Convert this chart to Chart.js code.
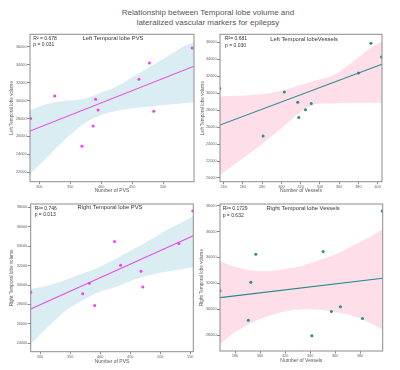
<!DOCTYPE html>
<html><head><meta charset="utf-8">
<script src="https://cdn.jsdelivr.net/npm/chart.js@4"></script>
<style>
html,body{margin:0;padding:0;background:#fff;}
#wrap{position:relative;width:400px;height:370px;overflow:hidden;font-family:"Liberation Sans",Arial,sans-serif;}
canvas{position:absolute;left:0;top:0;}
#title{position:absolute;left:0;width:416px;top:8px;text-align:center;font-size:8px;line-height:9.7px;color:#555;}
</style></head><body>
<div id="wrap">
<div id="title">Relationship between Temporal lobe volume and<br>lateralized vascular markers for epilepsy</div>
<canvas id="c1" width="400" height="370"></canvas>
<canvas id="c2" width="400" height="370"></canvas>
<canvas id="c3" width="400" height="370"></canvas>
<canvas id="c4" width="400" height="370"></canvas>
</div>
<script>
// ---------- Panel 1: Left temporal lobe vs PVS ----------
const leftPvsX = [286, 325, 369, 387, 391, 395, 461, 478, 485, 547];
const leftPvsVol = [28000, 30500, 24900, 27150, 30150, 28950, 32400, 34200, 28800, 35900];
const leftPvsFitX = [285, 550];
const leftPvsFitY = [26590, 33845];
const leftPvsBandX = [285, 317, 344, 371, 398, 425, 452, 479, 506, 532, 550];
const leftPvsBandUp = [28960, 29710, 29970, 30190, 30830, 31570, 32690, 33800, 34920, 36040, 36600];
const leftPvsBandLo = [21780, 23940, 25800, 27360, 28330, 28850, 29150, 29340, 29520, 29710, 29820];
const leftPvsXTicks = [300, 350, 400, 450, 500];
const leftPvsYTicks = [22000, 24000, 26000, 28000, 30000, 32000, 34000, 36000];

// ---------- Panel 2: Left temporal lobe vs Vessels ----------
const leftVesX = [236, 281, 303, 317, 318, 325, 331, 380, 393, 404];
const leftVesVol = [30550, 24940, 30150, 28940, 27140, 28030, 28790, 32390, 35880, 34270];
const leftVesFitX = [236, 404.5];
const leftVesFitY = [26240, 33420];
const leftVesBandX = [236, 250, 267, 285, 302, 319, 337, 354, 371, 392, 404.5];
const leftVesBandUp = [29570, 29680, 29760, 29960, 30350, 30940, 31530, 32120, 33400, 35270, 36050];
const leftVesBandLo = [20330, 21510, 22890, 24460, 26030, 27720, 28740, 28780, 28860, 28860, 28860];
const leftVesXTicks = [240, 260, 280, 300, 320, 340, 360, 380, 400];
const leftVesYTicks = [20000, 22000, 24000, 26000, 28000, 30000, 32000, 34000, 36000];

// ---------- Panel 3: Right temporal lobe vs PVS ----------
const rightPvsX = [284.5, 371, 382, 391, 424, 434, 468, 471, 531, 554];
const rightPvsVol = [29250, 29100, 30180, 27900, 34480, 32030, 31410, 29790, 34280, 37620];
const rightPvsFitX = [284.5, 555];
const rightPvsFitY = [27520, 35060];
const rightPvsBandX = [284.5, 316.6, 344.3, 372, 399.8, 427.5, 455.2, 482.9, 510.7, 538.3, 555];
const rightPvsBandUp = [29590, 30000, 30580, 31200, 31890, 32750, 33670, 34640, 35670, 36520, 37110];
const rightPvsBandLo = [23920, 25880, 27430, 28460, 29310, 29830, 30520, 31030, 31370, 31650, 31820];
const rightPvsXTicks = [300, 350, 400, 450, 500, 550];
const rightPvsYTicks = [24000, 26000, 28000, 30000, 32000, 34000, 36000, 38000];

// ---------- Panel 4: Right temporal lobe vs Vessels ----------
const rightVesX = [268, 290.6, 292.6, 296.6, 341.4, 350.4, 357, 364.2, 381.8, 397.6];
const rightVesVol = [31430, 29150, 32080, 34250, 27950, 34460, 29820, 30180, 29280, 37590];
const rightVesFitX = [268, 398];
const rightVesFitY = [30890, 32390];
const rightVesBandX = [268, 278.7, 292, 305.3, 318.7, 332, 345.3, 358.7, 372, 385.3, 398];
const rightVesBandUp = [33710, 33320, 33010, 32930, 33090, 33320, 33730, 34170, 34810, 35460, 36150];
const rightVesBandLo = [27300, 28120, 28890, 29410, 29790, 29970, 29970, 29790, 29540, 29020, 28430];
const rightVesXTicks = [280, 300, 320, 340, 360, 380];
const rightVesYTicks = [28000, 30000, 32000, 34000, 36000, 38000];

const FONT = '"Liberation Sans", Arial, sans-serif';
const PINK_PT = '#f23ff2', PINK_LINE = '#ea4ce8', BLUE_BAND = 'rgba(205,231,238,0.75)';
const TEAL_PT = '#2a8b8b', TEAL_LINE = '#23898a', PINK_BAND = 'rgba(252,214,228,0.8)';
const FRAME = '#8c8c8c', TICK_TXT = '#666', LABEL_TXT = '#555', TITLE_TXT = '#333';

const pts = (xs, ys) => xs.map((x, i) => ({x, y: ys[i]}));

function makePanel(id, p) {
  const yLh = 4.6 * 1.2, xLh = 5 * 1.2;
  const yAxisW = p.frame.l - (p.yTitleX - yLh / 2);
  const xAxisH = (p.xTitleY + xLh / 2) - p.frame.b;
  const padding = {
    left: p.frame.l - yAxisW, top: p.frame.t,
    right: 400 - p.frame.r, bottom: 370 - p.frame.b - xAxisH
  };
  new Chart(document.getElementById(id), {
    type: 'line',
    data: {
      datasets: [
        {data: pts(p.x, p.y), showLine: false, pointRadius: 1.5, pointBorderWidth: 0,
         pointBackgroundColor: p.ptColor, backgroundColor: p.ptColor, clip: 0},
        {data: pts(p.fitX, p.fitY), borderColor: p.lineColor, borderWidth: 1.1, pointRadius: 0, clip: 0},
        {data: pts(p.bandX, p.bandUp), borderWidth: 0, pointRadius: 0, fill: '+1',
         backgroundColor: p.bandColor, tension: 0.35, clip: 0},
        {data: pts(p.bandX, p.bandLo), borderWidth: 0, pointRadius: 0, fill: false, tension: 0.35, clip: 0}
      ]
    },
    options: {
      responsive: false, animation: false, devicePixelRatio: 1,
      layout: {padding},
      plugins: {legend: {display: false}, tooltip: {enabled: false}},
      scales: {
        x: {
          type: 'linear', min: p.xMin, max: p.xMax,
          afterBuildTicks: a => { a.ticks = p.xTicks.map(v => ({value: v})); },
          afterFit: a => { a.height = xAxisH; },
          grid: {drawOnChartArea: false, drawTicks: true, tickLength: 2.5, color: FRAME},
          border: {display: false},
          ticks: {font: {family: FONT, size: 3.8}, color: TICK_TXT, padding: 0.5, maxRotation: 0, autoSkip: false,
                  callback: v => String(v)},
          title: {display: true, text: p.xTitle, font: {family: FONT, size: 5}, color: LABEL_TXT, padding: 0}
        },
        y: {
          type: 'linear', min: p.yMin, max: p.yMax,
          afterBuildTicks: a => { a.ticks = p.yTicks.map(v => ({value: v})); },
          afterFit: a => { a.width = yAxisW; },
          grid: {drawOnChartArea: false, drawTicks: true, tickLength: 3, color: FRAME},
          border: {display: false},
          ticks: {font: {family: FONT, size: 3.8}, color: TICK_TXT, padding: 0.5, autoSkip: false,
                  callback: v => String(v)},
          title: {display: true, text: p.yTitle, font: {family: FONT, size: 4.6}, color: LABEL_TXT, padding: 0}
        }
      }
    },
    plugins: [{
      id: 'deco',
      afterDatasetsDraw(chart) {
        const {ctx, chartArea: a} = chart;
        ctx.save();
        ctx.strokeStyle = FRAME; ctx.lineWidth = 1;
        ctx.strokeRect(a.left, a.top, a.right - a.left, a.bottom - a.top);
        ctx.fillStyle = TITLE_TXT; ctx.textBaseline = 'middle';
        ctx.font = '5.8px ' + FONT; ctx.textAlign = 'center';
        ctx.fillText(p.title, p.titlePos[0], p.titlePos[1]);
        ctx.font = '5px ' + FONT; ctx.textAlign = 'left';
        ctx.fillText(p.r2, p.statPos[0], p.statPos[1]);
        ctx.fillText(p.pval, p.statPos[0], p.statPos[1] + p.statGap);
        ctx.restore();
      }
    }]
  });
}

makePanel('c1', {
  x: leftPvsX, y: leftPvsVol, fitX: leftPvsFitX, fitY: leftPvsFitY,
  bandX: leftPvsBandX, bandUp: leftPvsBandUp, bandLo: leftPvsBandLo,
  xTicks: leftPvsXTicks, yTicks: leftPvsYTicks,
  xMin: 285, xMax: 550, yMin: 20920, yMax: 37420,
  frame: {l: 30, t: 34.3, r: 194, b: 181.7}, yTitleX: 12, xTitleY: 191,
  ptColor: PINK_PT, lineColor: PINK_LINE, bandColor: BLUE_BAND,
  xTitle: 'Number of PVS', yTitle: 'Left Temporal lobe volume',
  title: 'Left Temporal lobe PVS', titlePos: [113, 38],
  r2: 'R\u00b2 = 0.678', pval: 'p = 0.031', statPos: [33.3, 39], statGap: 5.5
});
makePanel('c2', {
  x: leftVesX, y: leftVesVol, fitX: leftVesFitX, fitY: leftVesFitY,
  bandX: leftVesBandX, bandUp: leftVesBandUp, bandLo: leftVesBandLo,
  xTicks: leftVesXTicks, yTicks: leftVesYTicks,
  xMin: 236.2, xMax: 404.5, yMin: 19560, yMax: 36940,
  frame: {l: 220, t: 34.3, r: 382, b: 181.7}, yTitleX: 203, xTitleY: 191,
  ptColor: TEAL_PT, lineColor: TEAL_LINE, bandColor: PINK_BAND,
  xTitle: 'Number of Vessels', yTitle: 'Left Temporal lobe volume',
  title: 'Left Temporal lobeVessels', titlePos: [304, 39.5],
  r2: 'R\u00b2= 0.681', pval: 'p = 0.030', statPos: [225, 39], statGap: 6.5
});
makePanel('c3', {
  x: rightPvsX, y: rightPvsVol, fitX: rightPvsFitX, fitY: rightPvsFitY,
  bandX: rightPvsBandX, bandUp: rightPvsBandUp, bandLo: rightPvsBandLo,
  xTicks: rightPvsXTicks, yTicks: rightPvsYTicks,
  xMin: 284.5, xMax: 555, yMin: 23135, yMax: 38340,
  frame: {l: 30.7, t: 204, r: 193.3, b: 351.7}, yTitleX: 12, xTitleY: 362,
  ptColor: PINK_PT, lineColor: PINK_LINE, bandColor: BLUE_BAND,
  xTitle: 'Number of PVS', yTitle: 'Right Temporal lobe volume',
  title: 'Right Temporal lobe PVS', titlePos: [110, 207.5],
  r2: 'R\u00b2= 0.746', pval: 'p = 0.013', statPos: [34.7, 208.5], statGap: 6.5
});
makePanel('c4', {
  x: rightVesX, y: rightVesVol, fitX: rightVesFitX, fitY: rightVesFitY,
  bandX: rightVesBandX, bandUp: rightVesBandUp, bandLo: rightVesBandLo,
  xTicks: rightVesXTicks, yTicks: rightVesYTicks,
  xMin: 268, xMax: 398, yMin: 26765, yMax: 38130,
  frame: {l: 220, t: 204, r: 382.7, b: 351}, yTitleX: 202, xTitleY: 361,
  ptColor: TEAL_PT, lineColor: TEAL_LINE, bandColor: PINK_BAND,
  xTitle: 'Number of Vessels', yTitle: 'Right Temporal lobe volume',
  title: 'Right Temporal lobe Vessels', titlePos: [303, 208.3],
  r2: 'R\u00b2= 0.1729', pval: 'p = 0.632', statPos: [222.7, 209], statGap: 6.7
});
</script>
</body></html>
